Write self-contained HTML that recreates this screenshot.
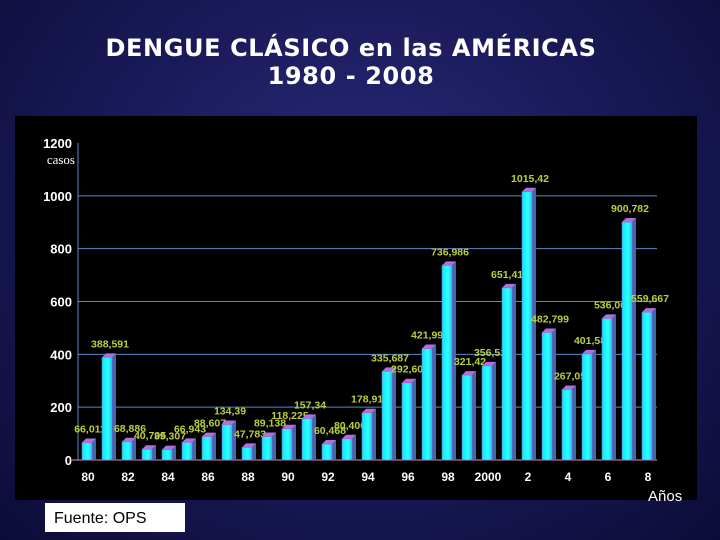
<!DOCTYPE html>
<html><head><meta charset="utf-8"><style>
html,body{margin:0;padding:0}
body{width:720px;height:540px;overflow:hidden;background:radial-gradient(ellipse at 50% 40%,#2a2a78 0%,#1a1a5a 50%,#0c0c38 100%);font-family:"Liberation Sans",sans-serif;position:relative}
.title{position:absolute;left:0;width:702px;text-align:center;color:#fff;font-weight:bold;font-size:24px;line-height:28px;top:34px;font-family:"DejaVu Sans",sans-serif;letter-spacing:0.6px}
#fuente{position:absolute;left:45px;top:503px;width:140px;height:29px;background:#fff;color:#000;font-size:16px;line-height:31px;padding-left:9px;box-sizing:border-box}
#anos{position:absolute;left:648px;top:488px;color:#fff;font-size:15px}
svg{position:absolute;left:0;top:0}
</style></head><body>
<div class="title">DENGUE CLÁSICO en las AMÉRICAS<br>1980 - 2008</div>
<svg id="chart" width="720" height="540"></svg>
<div id="fuente">Fuente: OPS</div>
<div id="anos">Años</div>
<script>
const years=[1980,1981,1982,1983,1984,1985,1986,1987,1988,1989,1990,1991,1992,1993,1994,1995,1996,1997,1998,1999,2000,2001,2002,2003,2004,2005,2006,2007,2008];
const values=[66.011,388.591,68.886,40.705,39.307,66.943,88.607,134.39,47.783,89.138,118.225,157.34,60.468,80.406,178.914,335.687,292.609,421.998,736.986,321.42,356.51,651.419,1015.42,482.799,267.05,401.58,536.06,900.782,559.667];
const valueLabels=["66,011","388,591","68,886","40,705","39,307","66,943","88,607","134,39","47,783","89,138","118,225","157,34","60,468","80,406","178,914","335,687","292,609","421,998","736,986","321,42","356,51","651,419","1015,42","482,799","267,05","401,58","536,06","900,782","559,667"];
const yTicks=[0,200,400,600,800,1000,1200];
const xTickYears=[1980,1982,1984,1986,1988,1990,1992,1994,1996,1998,2000,2002,2004,2006,2008];
const xTickLabels=["80","82","84","86","88","90","92","94","96","98","2000","2","4","6","8"];
const NS="http://www.w3.org/2000/svg";
const svg=document.getElementById('chart');
const y=v=>460-v*(460-143)/1200;
const x=yr=>88+(yr-1980)*20;
function mk(t,a,p){const e=document.createElementNS(NS,t);for(const k in a)e.setAttribute(k,a[k]);(p||svg).appendChild(e);return e;}
const bg=mk('rect',{x:15,y:116,width:682,height:384,fill:'#000'});


const defs=mk('defs',{});
const g=mk('linearGradient',{id:'bf',x1:0,x2:1,y1:0,y2:0},defs);
mk('stop',{offset:'0','stop-color':'#00e8ff'},g);mk('stop',{offset:'0.6','stop-color':'#30ffff'},g);mk('stop',{offset:'1','stop-color':'#20c8e8'},g);
yTicks.forEach(t=>{
  if(t>0&&t<1200){const l=mk('line',{x1:78,x2:657,y1:y(t),y2:y(t),stroke:'#5a8ac8','stroke-width':1});
  
  }
  const tx=mk('text',{x:72,y:y(t)+5,fill:'#fff','font-size':13,'font-weight':'bold','text-anchor':'end','font-family':'Liberation Sans'});
  tx.textContent=t;
  
  
});
const cs=mk('text',{x:75,y:164,fill:'#fff','font-size':13,'text-anchor':'end','font-family':'Liberation Serif'});cs.textContent='casos';


mk('line',{x1:78,x2:78,y1:143,y2:460,stroke:'#5a8ac8'});
mk('line',{x1:72,x2:657,y1:460,y2:460,stroke:'#c89ab8'});
years.forEach((yr,i)=>{
  const cx=x(yr),top=y(values[i]),w=10,d=4;
  const bx=cx-6;
  const side=mk('polygon',{points:`${bx+w},${top} ${bx+w+d},${top-d} ${bx+w+d},460 ${bx+w},460`,fill:'#3a6ab0'});
  
  
  const tp=mk('polygon',{points:`${bx},${top} ${bx+d},${top-d} ${bx+w+d},${top-d} ${bx+w},${top}`,fill:'#b070e0'});
  
  
  const r=mk('rect',{x:bx,y:top,width:w,height:460-top,fill:'url(#bf)',stroke:'#c050d0','stroke-width':0.6});
  
  
  const lb=mk('text',{x:cx+2,y:top-10,fill:'#b8d040','font-size':10.5,'font-weight':'bold','text-anchor':'middle','font-family':'Liberation Sans'});
  lb.textContent=valueLabels[i];
  
  
});
xTickYears.forEach((yr,i)=>{
  const t=mk('text',{x:x(yr),y:481,fill:'#fff','font-size':12,'font-weight':'bold','text-anchor':'middle','font-family':'Liberation Sans'});
  t.textContent=xTickLabels[i];
  
  
});
</script>
</body></html>
